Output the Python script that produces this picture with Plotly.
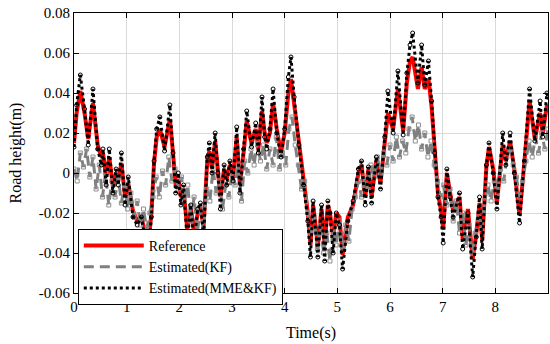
import plotly.graph_objects as go

# ---- data ----
t_ref = [0.00, 0.05, 0.12, 0.20, 0.27, 0.36, 0.45, 0.52, 0.55, 0.61, 0.67, 0.74, 0.80, 0.84, 0.90, 0.97,
         1.03, 1.12, 1.20, 1.28, 1.35, 1.42, 1.47, 1.52, 1.57, 1.63, 1.72, 1.82, 1.88, 1.93, 1.98,
         2.03, 2.08, 2.15, 2.22, 2.28, 2.35, 2.40, 2.46, 2.53, 2.57, 2.62, 2.68, 2.73, 2.78, 2.85, 2.90, 2.96,
         3.02, 3.09, 3.15, 3.22, 3.28, 3.37, 3.45, 3.50, 3.57, 3.62, 3.66, 3.72, 3.78, 3.85, 3.93,
         4.00, 4.07, 4.12, 4.18, 4.27, 4.36, 4.44, 4.49, 4.54, 4.63, 4.70, 4.76, 4.82, 4.86, 4.92, 4.98,
         5.04, 5.10, 5.20, 5.30, 5.40, 5.46, 5.53, 5.59, 5.65, 5.74, 5.82, 5.90, 5.96,
         6.06, 6.15, 6.25, 6.32, 6.38, 6.43, 6.53, 6.60, 6.66, 6.73, 6.79, 6.85, 6.91, 6.97,
         7.01, 7.08, 7.14, 7.20, 7.32, 7.38, 7.48, 7.57, 7.64, 7.70, 7.75, 7.83, 7.88, 7.96,
         8.03, 8.14, 8.20, 8.28, 8.36, 8.46, 8.55, 8.65, 8.75, 8.85, 8.90, 8.98, 9.00]

reference = [0.015, 0.030, 0.041, 0.030, 0.017, 0.035, 0.014, 0.008, 0.010, -0.002, 0.008, -0.007, 0.000, -0.004, 0.005, -0.012,
             -0.005, -0.019, -0.024, -0.022, -0.030, -0.033, -0.020, 0.005, 0.018, 0.022, 0.013, 0.027, 0.010, -0.006, -0.003,
             -0.012, -0.008, -0.028, -0.018, -0.030, -0.020, -0.017, -0.027, 0.006, 0.011, 0.002, 0.016, 0.002, -0.012, 0.002, -0.003, 0.004,
             -0.002, 0.018, -0.006, 0.010, 0.026, 0.015, 0.022, 0.012, 0.031, 0.020, 0.015, 0.020, 0.035, 0.022, 0.010,
             0.020, 0.040, 0.047, 0.035, 0.015, -0.004, -0.020, -0.036, -0.016, -0.036, -0.018, -0.036, -0.016, -0.020, -0.032, -0.020,
             -0.022, -0.041, -0.022, -0.016, 0.000, 0.004, -0.012, 0.002, -0.012, 0.006, -0.005, 0.015, 0.030,
             0.022, 0.042, 0.021, 0.045, 0.056, 0.058, 0.042, 0.053, 0.042, 0.047, 0.033, 0.010, -0.010, -0.019,
             -0.028, 0.000, -0.010, -0.019, -0.012, -0.033, -0.018, -0.043, -0.030, -0.015, -0.034, 0.003, 0.013, 0.002,
             -0.015, 0.014, 0.006, 0.016, 0.002, -0.021, 0.005, 0.036, 0.017, 0.030, 0.020, 0.034, 0.033]

mme_kf = [0.013, 0.034, 0.049, 0.032, 0.014, 0.042, 0.012, 0.004, 0.012, -0.006, 0.012, -0.010, 0.002, -0.006, 0.010, -0.016,
          -0.002, -0.022, -0.026, -0.022, -0.033, -0.037, -0.022, 0.006, 0.022, 0.028, 0.011, 0.034, 0.010, -0.010, 0.000,
          -0.016, -0.006, -0.034, -0.016, -0.035, -0.018, -0.015, -0.032, 0.008, 0.015, 0.000, 0.020, 0.000, -0.018, 0.004, -0.006, 0.006,
          -0.004, 0.023, -0.010, 0.012, 0.031, 0.013, 0.025, 0.010, 0.038, 0.018, 0.012, 0.022, 0.042, 0.020, 0.008,
          0.022, 0.048, 0.058, 0.038, 0.014, -0.006, -0.024, -0.042, -0.014, -0.042, -0.016, -0.044, -0.014, -0.020, -0.040, -0.020,
          -0.026, -0.048, -0.024, -0.014, 0.002, 0.006, -0.016, 0.003, -0.015, 0.008, -0.008, 0.018, 0.041,
          0.020, 0.051, 0.019, 0.050, 0.064, 0.070, 0.045, 0.064, 0.044, 0.056, 0.036, 0.010, -0.012, -0.022,
          -0.035, 0.002, -0.012, -0.022, -0.010, -0.038, -0.020, -0.052, -0.032, -0.012, -0.038, 0.004, 0.015, 0.000,
          -0.018, 0.020, 0.004, 0.020, 0.000, -0.025, 0.006, 0.042, 0.016, 0.036, 0.018, 0.040, 0.038]

t_kf = [0.00, 0.06, 0.12, 0.18, 0.24, 0.30, 0.36, 0.42, 0.48, 0.54, 0.60, 0.66, 0.72, 0.78, 0.84, 0.90, 0.96,
        1.02, 1.08, 1.14, 1.20, 1.26, 1.32, 1.38, 1.44, 1.50, 1.56, 1.62, 1.68, 1.74, 1.80, 1.86, 1.92, 1.98,
        2.04, 2.10, 2.16, 2.22, 2.28, 2.34, 2.40, 2.46, 2.52, 2.58, 2.64, 2.70, 2.76, 2.82, 2.88, 2.94,
        3.00, 3.06, 3.12, 3.18, 3.24, 3.30, 3.36, 3.42, 3.48, 3.54, 3.60, 3.66, 3.72, 3.78, 3.84, 3.90, 3.96,
        4.02, 4.08, 4.14, 4.20, 4.26, 4.32, 4.38, 4.44, 4.50, 4.56, 4.62, 4.68, 4.74, 4.80, 4.86, 4.92, 4.98,
        5.04, 5.10, 5.16, 5.22, 5.28, 5.34, 5.40, 5.46, 5.52, 5.58, 5.64, 5.70, 5.76, 5.82, 5.88, 5.94,
        6.00, 6.06, 6.12, 6.18, 6.24, 6.30, 6.36, 6.42, 6.48, 6.54, 6.60, 6.66, 6.72, 6.78, 6.84, 6.90, 6.96,
        7.02, 7.08, 7.14, 7.20, 7.26, 7.32, 7.38, 7.44, 7.50, 7.56, 7.62, 7.68, 7.74, 7.80, 7.86, 7.92, 7.98,
        8.04, 8.10, 8.16, 8.22, 8.28, 8.34, 8.40, 8.46, 8.52, 8.58, 8.64, 8.70, 8.76, 8.82, 8.88, 8.94, 9.00]

kf = [0.002, -0.004, 0.010, 0.003, 0.012, -0.002, 0.008, -0.008, 0.004, -0.012, 0.000, -0.016, -0.004, -0.012, -0.002, -0.015, -0.006,
      -0.018, -0.010, -0.022, -0.014, -0.026, -0.018, -0.028, -0.020, -0.012, -0.002, -0.012, 0.001, -0.006, 0.008, -0.004, 0.002, -0.008,
      -0.002, -0.014, -0.006, -0.024, -0.012, -0.030, -0.018, -0.028, -0.008, -0.014, 0.002, -0.010, -0.004, -0.018, -0.006, -0.012,
      0.000, -0.006, 0.004, -0.014, 0.006, 0.000, 0.012, 0.004, 0.016, 0.006, 0.014, 0.002, 0.012, 0.004, 0.018, 0.002, 0.010,
      0.004, 0.022, 0.028, 0.014, 0.004, -0.008, -0.004, -0.020, -0.030, -0.022, -0.038, -0.026, -0.040, -0.030, -0.044, -0.028, -0.036,
      -0.024, -0.038, -0.026, -0.034, -0.018, -0.012, -0.004, -0.012, -0.002, -0.008, 0.004, -0.002, 0.008, 0.000, 0.010, 0.004,
      0.014, 0.006, 0.018, 0.008, 0.016, 0.010, 0.022, 0.028, 0.016, 0.024, 0.012, 0.020, 0.008, 0.016, 0.004, -0.004, -0.012,
      -0.006, -0.016, -0.008, -0.024, -0.014, -0.030, -0.020, -0.036, -0.026, -0.040, -0.030, -0.022, -0.028, -0.014, -0.006, -0.014, -0.004,
      -0.010, 0.002, -0.004, 0.008, 0.012, 0.004, -0.002, -0.012, -0.004, 0.006, 0.016, 0.008, 0.018, 0.010, 0.020, 0.012, 0.022]

x_ticks = [0, 1, 2, 3, 4, 5, 6, 7, 8, 9]
y_ticks = [-0.06, -0.04, -0.02, 0, 0.02, 0.04, 0.06, 0.08]
y_tick_labels = ["-0.06", "-0.04", "-0.02", "0", "0.02", "0.04", "0.06", "0.08"]

FONT = "Liberation Serif"

fig = go.Figure()
fig.add_trace(go.Scatter(x=t_ref, y=reference, mode="lines", name="Reference",
                         line=dict(color="#ff0000", width=4)))
fig.add_trace(go.Scatter(x=t_kf, y=kf, mode="lines", name="Estimated(KF)",
                         line=dict(color="#808080", width=3, dash="10px,6px")))
fig.add_trace(go.Scatter(x=t_kf, y=kf, mode="markers", showlegend=False, hoverinfo="skip",
                         marker=dict(symbol="square-open", size=4, color="#909090", line=dict(width=1))))
fig.add_trace(go.Scatter(x=t_ref, y=mme_kf, mode="lines", name="Estimated(MME&KF)",
                         line=dict(color="#000000", width=3, dash="dot")))
fig.add_trace(go.Scatter(x=t_ref, y=mme_kf, mode="markers", showlegend=False, hoverinfo="skip",
                         marker=dict(symbol="circle-open", size=4, color="#000000", line=dict(width=1))))

axis_common = dict(showline=True, linecolor="black", linewidth=1, mirror="ticks",
                   ticks="inside", ticklen=5, tickcolor="black", automargin=False,
                   showgrid=True, gridcolor="#d9d9d9", gridwidth=1, zeroline=False,
                   tickfont=dict(family=FONT, size=15, color="black"))

fig.update_layout(
    width=550, height=344,
    margin=dict(l=74, r=2, t=13, b=51),
    paper_bgcolor="white", plot_bgcolor="white",
    font=dict(family=FONT, color="black"),
    xaxis=dict(range=[0, 9], tickvals=x_ticks,
               title=dict(text="Time(s)", font=dict(family=FONT, size=16), standoff=12),
               **axis_common),
    yaxis=dict(range=[-0.06, 0.08], tickvals=y_ticks, ticktext=y_tick_labels,
               title=dict(text="Road height(m)", font=dict(family=FONT, size=16), standoff=13),
               **axis_common),
    legend=dict(x=0.008, y=0.229, xanchor="left", yanchor="top",
                bgcolor="white", bordercolor="black", borderwidth=1,
                font=dict(family=FONT, size=14), tracegroupgap=0,
                itemwidth=60),
    showlegend=True,
)

# remove the browser's default 8px body margin so the figure sits at the page origin
fig.write_html("out.html", config={"displayModeBar": False},
               post_script="document.body.style.margin='0';")
